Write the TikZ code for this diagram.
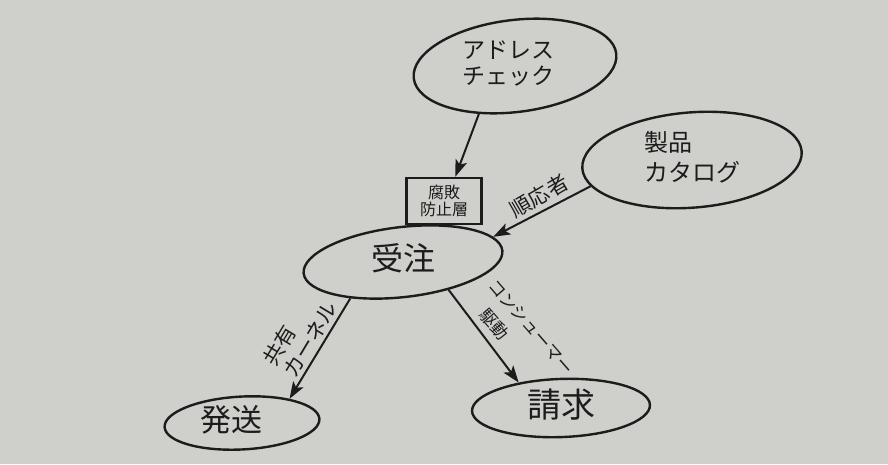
\documentclass[tikz,border=0pt]{standalone}
\usepackage{fontspec}
\usepackage{graphicx}
\newfontfamily\jp{Noto Sans CJK JP}
\usetikzlibrary{arrows.meta}
\usetikzlibrary{shapes.geometric}
\definecolor{paper}{RGB}{207,207,203}
\definecolor{ink}{RGB}{28,28,28}
\tikzstyle{ctx}=[ellipse, draw=ink, line width=2.4pt, inner sep=0pt, text=ink]
\tikzstyle{acl}=[rectangle, draw=ink, line width=2.4pt, inner sep=0pt,
                 minimum width=75pt, minimum height=46pt, align=center, text=ink]
\tikzstyle{rel}=[draw=ink, line width=2pt,
                 -{Stealth[length=17pt,width=12pt,inset=4pt]}]
\tikzstyle{lbl}=[text=ink, inner sep=0pt, align=left]
% text kept level inside a tilted ellipse
\newcommand{\ctxtext}[4]{\rotatebox{#1}{\jp\fontsize{#2}{#3}\selectfont
  \begin{tabular}{@{}l@{}}#4\end{tabular}}}

\begin{document}
\begin{tikzpicture}[x=1pt,y=-1pt]

      \useasboundingbox (0,0) rectangle (888,464);
      \fill[paper] (0,0) rectangle (888,464);

      \node[ctx, rotate=7, minimum width=204pt, minimum height=92pt] (addr) at (515,66)
           {\ctxtext{-7}{23pt}{24pt}{\hspace*{-14pt}アドレス\\\hspace*{-14pt}チェック}};
      \node[ctx, rotate=4.5, minimum width=220pt, minimum height=95pt] (prod) at (692,160)
           {\ctxtext{-4.5}{24pt}{30pt}{製品\\カタログ}};

      \node[acl, font={\jp\fontsize{16pt}{17pt}\selectfont}] (acl) at (444,201) {腐敗\\防止層};

      \node[ctx, rotate=6.6, minimum width=200pt, minimum height=70pt] (order) at (403,262)
           {\ctxtext{-6.6}{32pt}{32pt}{受注}};

      \node[ctx, rotate=3, minimum width=155pt, minimum height=52pt] (ship) at (242,423)
           {\ctxtext{-3}{31pt}{31pt}{\hspace*{-22pt}発送}};
      \node[ctx, rotate=2, minimum width=178pt, minimum height=56pt] (bill) at (561,408)
           {\ctxtext{-2}{34pt}{34pt}{請求}};

      \node[lbl, rotate=30, font={\jp\fontsize{21pt}{23pt}\selectfont}] (conf) at (539,196) {順応者};
      \node[lbl, rotate=59, font={\jp\fontsize{21pt}{23pt}\selectfont}] (shk) at (300,333) {共有\\カーネル};
      \node[lbl, rotate=-49, font={\jp\fontsize{17pt}{26.6pt}\selectfont}] (cdc) at (521,336)
           {コンシューマー\\\hspace*{16pt}駆動};

      \draw[rel] (addr.226) -- (acl.65);
      \draw[rel] (prod.190) -- (order.9);
      \draw[rel] (order.208) -- (ship.24);
      \draw[rel] (order.-38) -- (bill.147);
    \end{tikzpicture}
\end{document}
